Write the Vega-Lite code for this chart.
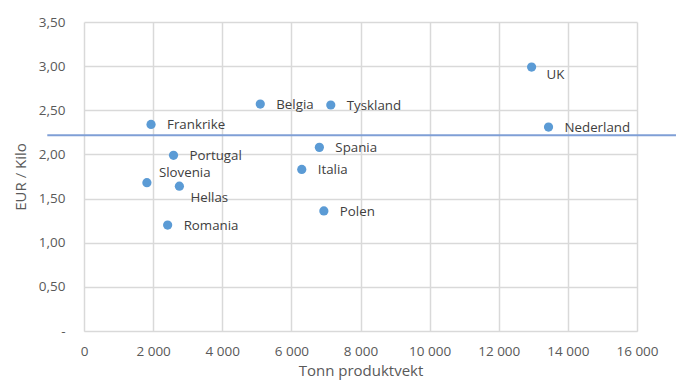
{
  "$schema": "https://vega.github.io/schema/vega-lite/v6.json",
  "width": 553,
  "height": 309,
  "autosize": {"type": "none"},
  "padding": {"left": 84, "top": 22, "right": 44, "bottom": 55},
  "background": "white",
  "config": {
    "view": {"stroke": null},
    "font": "Open Sans",
    "axis": {"labelFont": "Open Sans", "titleFont": "Open Sans", "labelColor": "#595959", "titleColor": "#595959", "labelFontSize": 13.5, "titleFontSize": 15, "titleFontWeight": "normal", "gridColor": "#D9D9D9", "gridWidth": 1.5, "domainColor": "#D9D9D9", "ticks": false, "labelFlush": false}
  },
  "datasets": {
    "pts": [
      {"land": "Frankrike", "tonn": 1940, "eur": 2.34, "pos": "right"},
      {"land": "Belgia", "tonn": 5100, "eur": 2.57, "pos": "right"},
      {"land": "Tyskland", "tonn": 7140, "eur": 2.56, "pos": "right"},
      {"land": "Portugal", "tonn": 2590, "eur": 1.99, "pos": "right"},
      {"land": "Slovenia", "tonn": 1820, "eur": 1.68, "pos": "above"},
      {"land": "Hellas", "tonn": 2760, "eur": 1.64, "pos": "below"},
      {"land": "Romania", "tonn": 2420, "eur": 1.2, "pos": "right"},
      {"land": "Spania", "tonn": 6810, "eur": 2.08, "pos": "right"},
      {"land": "Italia", "tonn": 6300, "eur": 1.83, "pos": "right"},
      {"land": "Polen", "tonn": 6940, "eur": 1.36, "pos": "right"},
      {"land": "UK", "tonn": 12950, "eur": 2.99, "pos": "belowright"},
      {"land": "Nederland", "tonn": 13440, "eur": 2.31, "pos": "right"}
    ],
    "snitt": [{"x1": -1062, "x2": 17128, "y": 2.217}]
  },
  "layer": [
    {
      "data": {"name": "pts"},
      "mark": {"type": "point", "filled": true, "opacity": 1, "color": "#5B9BD5", "size": 85},
      "encoding": {
        "x": {"field": "tonn", "type": "quantitative", "scale": {"domain": [0, 16000], "nice": false}, "title": "Tonn produktvekt",
          "axis": {"values": [0, 2000, 4000, 6000, 8000, 10000, 12000, 14000, 16000], "labelExpr": "replace(format(datum.value, ','), ',', ' ')", "labelPadding": 13, "titlePadding": 6, "domain": true}},
        "y": {"field": "eur", "type": "quantitative", "scale": {"domain": [0, 3.5], "nice": false}, "title": "EUR / Kilo",
          "axis": {"values": [0, 0.5, 1, 1.5, 2, 2.5, 3, 3.5], "labelExpr": "datum.value == 0 ? '-' : replace(format(datum.value, '.2f'), '.', ',')", "labelPadding": 19, "titlePadding": 10, "domain": false}}
      }
    },
    {
      "data": {"name": "pts"},
      "transform": [{"filter": "datum.pos == 'right'"}],
      "mark": {"type": "text", "align": "left", "baseline": "middle", "dx": 16, "dy": 1, "fontSize": 13.3, "color": "#404040"},
      "encoding": {
        "x": {"field": "tonn", "type": "quantitative"},
        "y": {"field": "eur", "type": "quantitative"},
        "text": {"field": "land"}
      }
    },
    {
      "data": {"name": "pts"},
      "transform": [{"filter": "datum.pos == 'above'"}],
      "mark": {"type": "text", "align": "left", "baseline": "middle", "dx": 12, "dy": -10, "fontSize": 13.3, "color": "#404040"},
      "encoding": {
        "x": {"field": "tonn", "type": "quantitative"},
        "y": {"field": "eur", "type": "quantitative"},
        "text": {"field": "land"}
      }
    },
    {
      "data": {"name": "pts"},
      "transform": [{"filter": "datum.pos == 'below'"}],
      "mark": {"type": "text", "align": "left", "baseline": "middle", "dx": 11, "dy": 12, "fontSize": 13.3, "color": "#404040"},
      "encoding": {
        "x": {"field": "tonn", "type": "quantitative"},
        "y": {"field": "eur", "type": "quantitative"},
        "text": {"field": "land"}
      }
    },
    {
      "data": {"name": "pts"},
      "transform": [{"filter": "datum.pos == 'belowright'"}],
      "mark": {"type": "text", "align": "left", "baseline": "middle", "dx": 15, "dy": 8, "fontSize": 13.3, "color": "#404040"},
      "encoding": {
        "x": {"field": "tonn", "type": "quantitative"},
        "y": {"field": "eur", "type": "quantitative"},
        "text": {"field": "land"}
      }
    },
    {
      "data": {"name": "snitt"},
      "mark": {"type": "rule", "color": "#7F9FD6", "strokeWidth": 2.2, "clip": false},
      "encoding": {
        "x": {"field": "x1", "type": "quantitative"},
        "x2": {"field": "x2"},
        "y": {"field": "y", "type": "quantitative"}
      }
    }
  ]
}
